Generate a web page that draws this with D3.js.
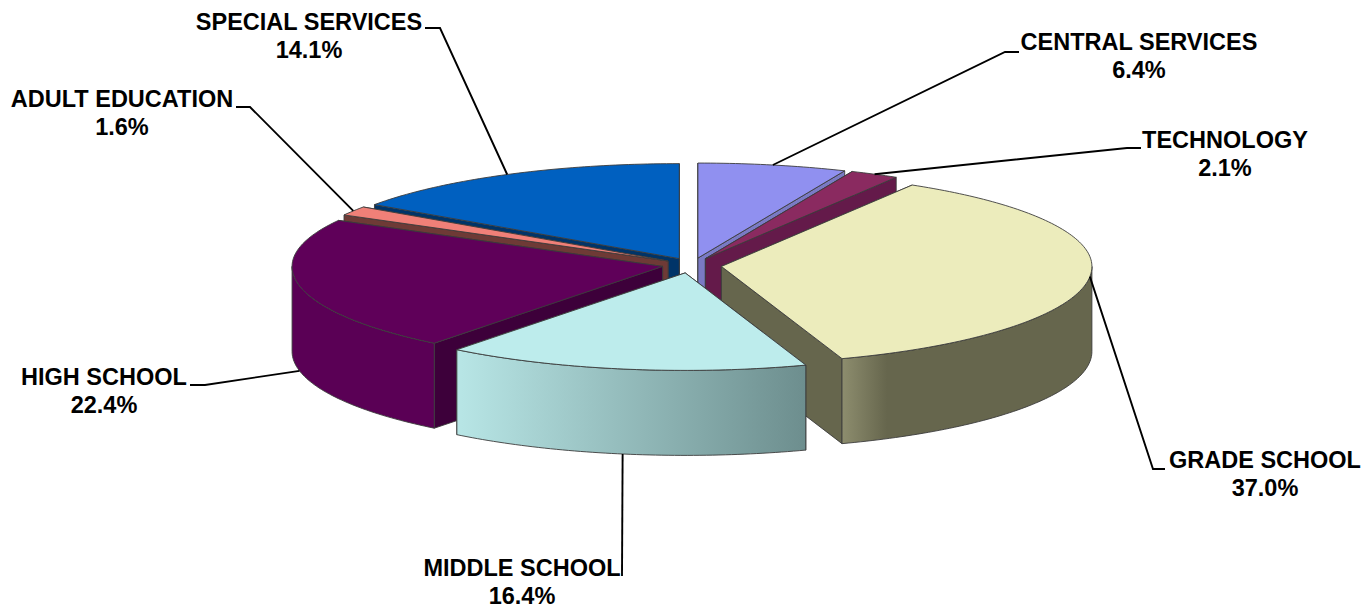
<!DOCTYPE html>
<html>
<head>
<meta charset="utf-8">
<title>Budget share by program</title>
<script src="https://cdn.jsdelivr.net/npm/d3@7"></script>
<style>
  html, body { margin: 0; padding: 0; background: #fff; }
  svg { display: block; }
  text { font-family: "Liberation Sans", Arial, sans-serif; font-weight: 700; font-size: 23.5px; fill: #000; }
</style>
</head>
<body>
<svg id="chart" width="1364" height="608"></svg>
<script>
// Program names and their share of the budget, clockwise from twelve o'clock.
const categories = ["CENTRAL SERVICES", "TECHNOLOGY", "GRADE SCHOOL", "MIDDLE SCHOOL", "HIGH SCHOOL", "ADULT EDUCATION", "SPECIAL SERVICES"];
const shares = [6.4, 2.1, 37.0, 16.4, 22.4, 1.6, 14.1];

// Fill colours: top face, cut walls, outer rim gradient (left and right stops).
const topColors = ["#9090f0", "#8a2a60", "#ececbc", "#bdecec", "#5f0059", "#f08078", "#0060c0"];
const wallColors = ["#7a7ac4", "#641a4a", "#66664d", "#5d8080", "#3d003a", "#6e3a36", "#003468"];
const rimLeft = ["#7a7ac4", "#641a4a", "#8d8d6e", "#b8e6e6", "#5a0055", "#6e3a36", "#003468"];
const rimRight = ["#7a7ac4", "#641a4a", "#66664d", "#6d8e8e", "#5a0055", "#6e3a36", "#003468"];

// Back-to-front paint order, by category index.
const paintOrder = [6, 5, 4, 0, 1, 2, 3];

// Callout layout: label centre, first-line baseline, leader elbow and stub end,
// and whether the leader starts at the base of the rim.
const callouts = [
  { cx: 1139, y: 50,  elbow: [1005, 52],  stub: [1019, 52],  base: false },
  { cx: 1225, y: 148, elbow: [1127, 148], stub: [1141, 148], base: false },
  { cx: 1265, y: 468, elbow: [1153, 469], stub: [1165, 469], base: false },
  { cx: 522,  y: 576, elbow: [622, 576],  stub: [622, 576],  base: true  },
  { cx: 104,  y: 385, elbow: [205, 385],  stub: [190, 385],  base: true  },
  { cx: 122,  y: 107, elbow: [250, 107],  stub: [236, 107],  base: false },
  { cx: 309,  y: 30,  elbow: [440, 28],   stub: [425, 28],   base: false }
];

// Tilted-pie projection; the near half of the ellipse opens slightly wider.
const center = { x: 692, y: 265.5 };
const radiusX = 370.5, radiusYFar = 95, radiusYNear = 97.5, depth = 85, explode = 0.08;
const lineGap = 27.5;

// Foreshortening of the tilted view: true pie angle to drawn angle, in degrees.
const drawnAngle = d3.scaleLinear()
  .domain([0, 30.6, 163.8, 193.3, 222.8, 303.5, 309.2, 360])
  .range([0, 31, 161, 189.7, 218, 299, 304.6, 360]);

const toDeg = r => r * 180 / Math.PI;
const toRad = d => d * Math.PI / 180;

const slices = d3.pie().sort(null).value(d => d)(shares).map((arc, i) => {
  const midTrue = (arc.startAngle + arc.endAngle) / 2;
  return {
    i,
    start: drawnAngle(toDeg(arc.startAngle)),
    end: drawnAngle(toDeg(arc.endAngle)),
    mid: drawnAngle(toDeg(midTrue)),
    apex: {
      x: center.x + explode * radiusX * Math.sin(midTrue),
      y: center.y - explode * radiusYFar * Math.cos(midTrue)
    }
  };
});

// Point on a slice's rim at a drawn angle, optionally pushed down to the base.
const rimPoint = (s, deg, drop = 0) => {
  const c = Math.cos(toRad(deg));
  return [
    s.apex.x + radiusX * Math.sin(toRad(deg)),
    s.apex.y - (c > 0 ? radiusYFar : radiusYNear) * c + drop
  ];
};
const arcPoints = (s, a, b, drop = 0) => {
  const n = Math.max(2, Math.ceil(Math.abs(b - a)));
  return d3.range(n + 1).map(k => rimPoint(s, a + (b - a) * k / n, drop));
};
const closed = d3.line().curve(d3.curveLinearClosed);
const open = d3.line();

const svg = d3.select("#chart");
const defs = svg.append("defs");
const edge = { stroke: "#3c3c3c", width: 0.9 };

const styled = sel => sel.attr("stroke", edge.stroke).attr("stroke-width", edge.width).attr("stroke-linejoin", "round");

paintOrder.forEach(i => {
  const s = slices[i];
  const g = svg.append("g").attr("class", "slice");
  const apexTop = [s.apex.x, s.apex.y];
  const apexBase = [s.apex.x, s.apex.y + depth];

  // Cut walls come first, the nearer one last, so the back-facing wall stays hidden.
  [s.start, s.end]
    .sort((a, b) => d3.ascending(rimPoint(s, a)[1], rimPoint(s, b)[1]))
    .forEach(deg => {
      styled(g.append("path")
        .attr("d", closed([apexTop, rimPoint(s, deg), rimPoint(s, deg, depth), apexBase]))
        .attr("fill", wallColors[i]));
    });

  // Outer rim: only the part on the near half of the ellipse shows.
  const from = Math.max(s.start, 90), to = Math.min(s.end, 270);
  if (to > from) {
    const gradId = "rim" + i;
    const x0 = rimPoint(s, to)[0], x1 = rimPoint(s, from)[0];
    const left = Math.min(x0, x1);
    // The grade school rim fades from its lit corner over a short run.
    const span = i === 2 ? 45 : Math.abs(x1 - x0);
    const gradStart = i === 2 ? rimPoint(s, s.end)[0] : left;
    const grad = defs.append("linearGradient").attr("id", gradId)
      .attr("gradientUnits", "userSpaceOnUse")
      .attr("x1", gradStart).attr("x2", gradStart + span)
      .attr("y1", 0).attr("y2", 0);
    grad.append("stop").attr("offset", 0).attr("stop-color", rimLeft[i]);
    grad.append("stop").attr("offset", 1).attr("stop-color", rimRight[i]);
    const outline = arcPoints(s, from, to).concat(arcPoints(s, to, from, depth));
    styled(g.append("path").attr("d", closed(outline)).attr("fill", `url(#${gradId})`));
  }

  // Top face.
  styled(g.append("path")
    .attr("d", closed([apexTop].concat(arcPoints(s, s.start, s.end))))
    .attr("fill", topColors[i]));
});

// Leader lines and two-line labels.
slices.forEach(s => {
  const c = callouts[s.i];
  const from = rimPoint(s, s.mid, c.base ? depth : 0);
  svg.append("path")
    .attr("d", open([from, c.elbow, c.stub]))
    .attr("fill", "none").attr("stroke", "#000").attr("stroke-width", 1.9);
  const label = svg.append("text").attr("text-anchor", "middle");
  label.append("tspan").attr("x", c.cx).attr("y", c.y).text(categories[s.i]);
  label.append("tspan").attr("x", c.cx).attr("y", c.y + lineGap).text(d3.format(".1f")(shares[s.i]) + "%");
});
</script>
</body>
</html>
